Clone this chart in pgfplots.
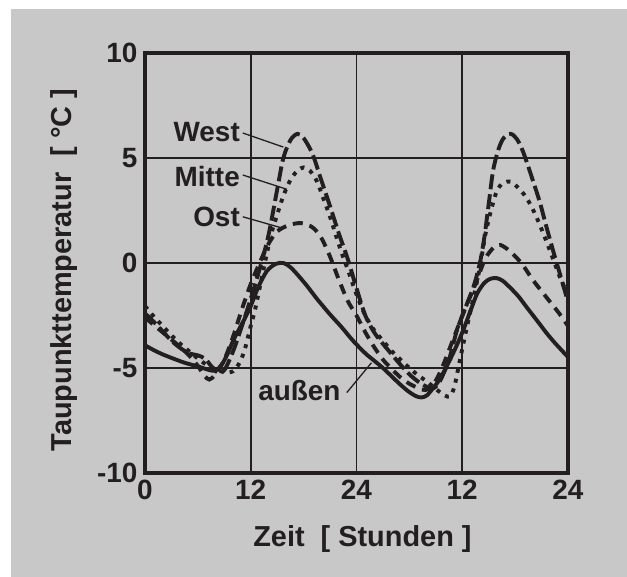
\documentclass[border=0pt]{standalone}
\usepackage{fontspec}
\setmainfont{Liberation Sans}
\usepackage{pgfplots}
\pgfplotsset{compat=1.18}
\definecolor{bg}{RGB}{200,200,200}
\definecolor{ink}{RGB}{35,31,32}
\pgfplotstableread{
x y
0 -3.92
1 -4.15
2 -4.35
3.2 -4.55
4.5 -4.75
6.2 -4.95
7.3 -5.1
8.0 -5.12
8.7 -4.85
9.4 -4.3
10 -3.7
11 -2.9
11.9 -2.15
12.8 -1.2
13.8 -0.4
14.8 -0.05
15.7 0.0
16.5 -0.2
17.4 -0.6
18.4 -1.1
19.5 -1.7
21 -2.45
22.3 -3.05
23.6 -3.7
25 -4.3
26 -4.65
27 -5.0
28 -5.4
29 -5.8
30 -6.15
30.8 -6.35
31.4 -6.4
32 -6.3
32.8 -5.9
33.5 -5.5
34.5 -4.7
35.4 -3.9
36.2 -3.1
37 -2.2
37.7 -1.45
38.5 -0.95
39.2 -0.75
39.9 -0.72
40.6 -0.85
41.5 -1.2
42.4 -1.6
43.3 -2.1
44.5 -2.75
45.5 -3.3
46.5 -3.8
48 -4.48
}\aussen
\pgfplotstableread{
x y
0 -2.6
1 -2.95
2 -3.3
3 -3.65
4 -4.0
5 -4.4
6 -4.9
6.7 -5.35
7.3 -5.55
8 -5.3
9 -4.6
10 -3.5
11 -2.2
12 -1.0
13 0.0
14 0.9
15 1.5
16.3 1.8
17.7 1.9
19 1.7
20 1.2
21 0.3
22 -0.8
23 -1.8
24 -2.5
25 -3.3
26 -4.0
27 -4.6
28 -5.05
29 -5.45
30 -5.75
31 -5.95
31.8 -6.05
32.7 -5.8
33.7 -5.0
35 -3.6
36.3 -2.2
37.5 -1.0
38.6 0.2
39.6 0.75
40.3 0.86
41.3 0.6
42.7 0.0
44 -0.8
45.3 -1.5
47 -2.4
48 -3.0
}\ost
\pgfplotstableread{
x y
0 -2.05
1 -2.55
2 -3.0
3 -3.45
4 -3.85
5 -4.2
6 -4.55
7 -4.85
8 -5.05
9 -5.2
10 -5.15
10.8 -4.7
11.4 -4.0
12 -3.0
12.5 -2.2
13.2 -0.8
13.8 0.4
14.4 1.5
15 2.3
15.7 3.2
16.5 3.95
17.3 4.4
18 4.55
18.7 4.4
19.5 3.9
20.3 3.0
21 2.2
21.6 1.4
22.3 0.5
23 -0.3
24 -1.5
25 -2.5
26 -3.2
27 -3.7
28 -4.2
29 -4.6
30 -5.0
31 -5.35
32 -5.65
33 -6.0
34 -6.3
34.6 -6.35
35.1 -5.9
35.7 -4.7
36.5 -3.1
37.2 -1.8
38 -0.2
38.6 1.3
39.2 2.4
39.9 3.4
40.6 3.8
41.5 3.87
42.3 3.6
43.3 3.1
44.3 2.3
45.3 1.3
46.3 0.2
47.2 -0.8
48 -1.5
}\mitte
\pgfplotstableread{
x y
0 -2.4
1 -2.8
2 -3.25
3 -3.7
4 -4.05
5 -4.3
6 -4.4
6.8 -4.55
7.5 -4.9
8.2 -5.2
9 -5.1
10 -4.2
11 -3.0
12 -1.7
13 -0.3
14 1.3
15 3.5
15.7 5.0
16.5 5.85
17.3 6.15
18 5.95
19 5.2
20 3.95
21 2.7
22 1.4
23 0.2
24 -1.2
25 -2.5
26 -3.3
27 -3.85
28 -4.35
29 -4.85
30 -5.3
31 -5.65
32 -5.9
32.8 -5.95
33.5 -5.6
34.5 -4.6
35.4 -3.2
36.3 -2.2
37.3 -1.1
38 0.0
38.5 1.2
39 2.8
39.5 4.4
40.1 5.4
40.7 5.95
41.5 6.15
42.2 5.9
42.9 5.3
43.8 4.2
44.8 2.9
45.5 1.8
46.3 0.6
47 -0.4
48 -1.85
}\west
\begin{document}
\begin{tikzpicture}
\fill[white] (-145bp,-104bp) rectangle (482bp,473bp);
\fill[bg] (-134bp,-104bp) rectangle (482bp,464bp);
\begin{axis}[
  at={(0,0)}, anchor=south west,
  scale only axis, width=423bp, height=420bp,
  xmin=0, xmax=48, ymin=-10, ymax=10,
  xtick={0,12,24,36,48}, xticklabels={0,12,24,12,24},
  ytick={-10,-5,0,5,10},
  major tick length=0pt,
  grid=major,
  major grid style={ink, line width=1.8bp},
  axis line style={ink, line width=3.2bp},
  axis background/.style={fill=bg},
  /pgf/number format/assume math mode=true,
  tick label style={font=\fontsize{28}{32}\selectfont\bfseries, text=ink},
  xticklabel style={yshift=-4bp},
  yticklabel style={xshift=-4bp},
  xlabel={Zeit\ \ [ Stunden ]},
  ylabel={Taupunkttemperatur\ \ [ °C ]},
  label style={font=\fontsize{29}{33}\selectfont\bfseries, text=ink},
  xlabel style={at={(axis description cs:0.514,-0.157)}, anchor=center},
  ylabel style={at={(axis description cs:-0.191,0.483)}, anchor=center},
  every axis plot/.append style={ink, line width=3.9bp, smooth},
]
\addplot[solid] table[x=x,y=y] {\aussen};
\addplot[dash pattern=on 10bp off 7bp] table[x=x,y=y] {\ost};
\addplot[dash pattern=on 4bp off 6bp] table[x=x,y=y] {\mitte};
\addplot[dash pattern=on 15bp off 5bp] table[x=x,y=y] {\west};
\draw[ink, line width=1.3bp] (axis cs:11.1,6.19) -- (axis cs:15.7,5.52);
\draw[ink, line width=1.3bp] (axis cs:11.1,4.19) -- (axis cs:16.1,3.51);
\draw[ink, line width=1.3bp] (axis cs:11.1,2.2) -- (axis cs:15.7,1.65);
\draw[ink, line width=1.3bp] (axis cs:22.9,-6.17) -- (axis cs:25.7,-4.75);
\node[anchor=east, inner sep=0pt, text=ink, font=\fontsize{28}{32}\selectfont\bfseries] at (axis cs:10.78,6.25) {West};
\node[anchor=east, inner sep=0pt, text=ink, font=\fontsize{28}{32}\selectfont\bfseries] at (axis cs:10.78,4.14) {Mitte};
\node[anchor=east, inner sep=0pt, text=ink, font=\fontsize{28}{32}\selectfont\bfseries] at (axis cs:10.78,2.2) {Ost};
\node[anchor=east, inner sep=0pt, text=ink, font=\fontsize{28}{32}\selectfont\bfseries] at (axis cs:22.2,-6.08) {außen};
\end{axis}
\end{tikzpicture}
\end{document}
